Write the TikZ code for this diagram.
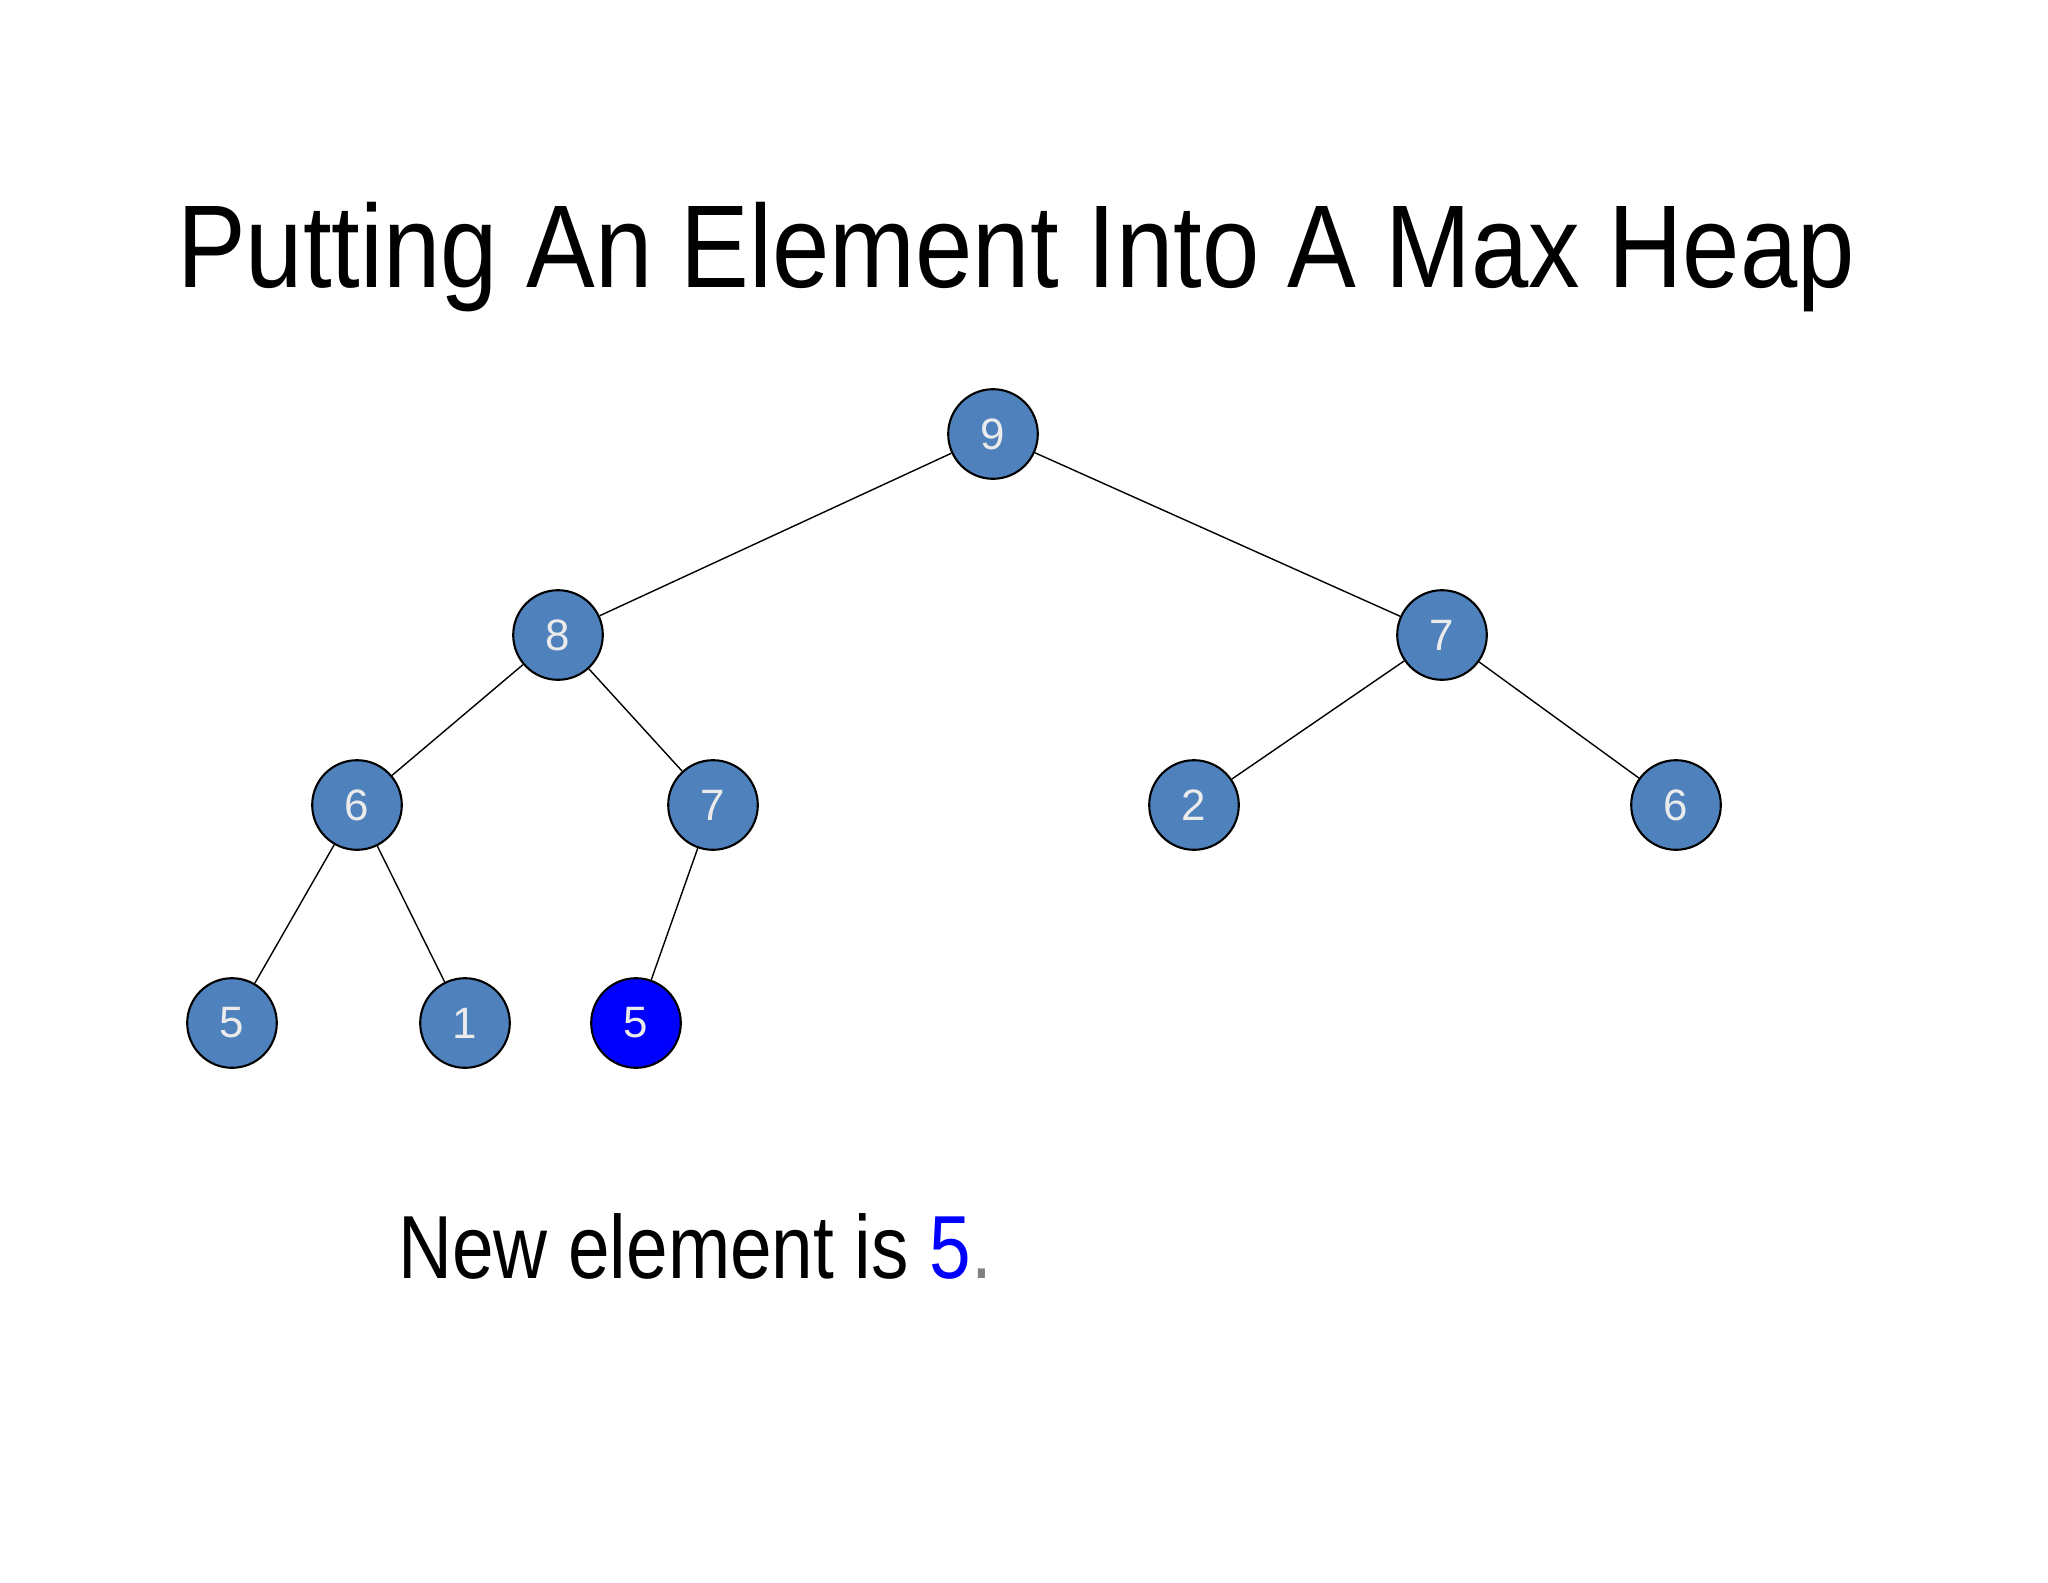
\documentclass[tikz,border=0pt]{standalone}
\usepackage{graphicx}
\usepackage{fontspec}
\setmainfont{Liberation Sans}
\definecolor{nodeblue}{HTML}{4F81BD}
\begin{document}
\begin{tikzpicture}[x=0.02cm,y=-0.02cm,
  hnode/.style={circle,draw=black,line width=1.2pt,fill=nodeblue,minimum size=51pt,inner sep=0pt,text=white!92!black,font=\fontsize{25}{25}\selectfont},
  newnode/.style={hnode,fill=blue},
  edge/.style={draw=black,line width=0.8pt}]
\useasboundingbox (0,0) rectangle (2048,1582);
\node (title) at (1016,257) {\resizebox{955pt}{\height}{\fontsize{67}{67}\selectfont Putting An Element Into A Max Heap}};
\node[hnode] (n9) at (993,434) {9};
\node[hnode] (n8) at (558,635) {8};
\node[hnode] (n7r) at (1442,635) {7};
\node[hnode] (n6) at (357,805) {6};
\node[hnode] (n7) at (713,805) {7};
\node[hnode] (n2) at (1194,805) {2};
\node[hnode] (n6r) at (1676,805) {6};
\node[hnode] (n5) at (232,1023) {5};
\node[hnode] (n1) at (465,1023) {1};
\node[newnode] (n5n) at (636,1023) {5};
\draw[edge] (n9) -- (n8);
\draw[edge] (n9) -- (n7r);
\draw[edge] (n8) -- (n6);
\draw[edge] (n8) -- (n7);
\draw[edge] (n7r) -- (n2);
\draw[edge] (n7r) -- (n6r);
\draw[edge] (n6) -- (n5);
\draw[edge] (n6) -- (n1);
\draw[edge] (n7) -- (n5n);
\node[anchor=base west] (msg) at (392,1278) {\resizebox{338pt}{\height}{\fontsize{51}{51}\selectfont New element is \textcolor{blue}{5}\textcolor{gray}{.}}};
\end{tikzpicture}
\end{document}
